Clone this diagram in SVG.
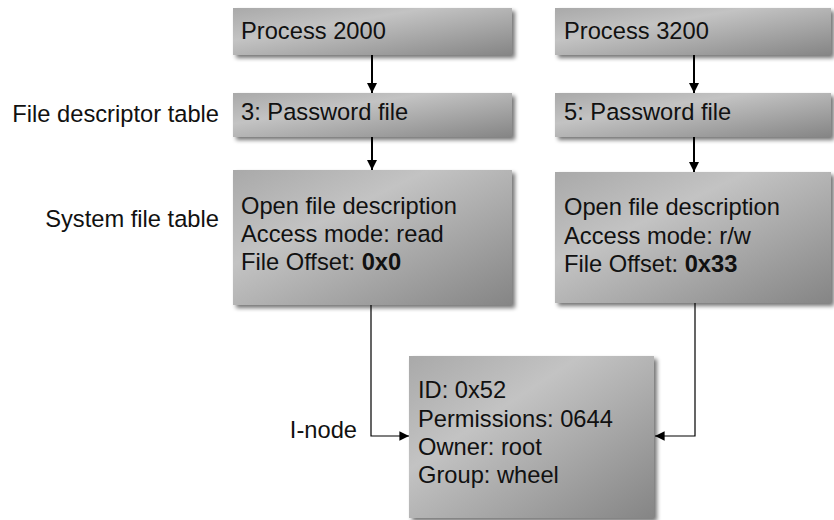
<svg xmlns="http://www.w3.org/2000/svg" width="834" height="520" viewBox="0 0 834 520">
<style>
  text { font-family: "Liberation Sans", Arial, sans-serif; font-size: 23.7px; fill: #111; }
  .lbl { text-anchor: end; }
  .box { fill: url(#g); filter: url(#sh); }
  .thick { stroke: #000; stroke-width: 2; fill: none; marker-end: url(#ah); }
  .thin { stroke: #000; stroke-width: 1.2; fill: none; marker-end: url(#ah2); }
  b, .b { font-weight: bold; }
</style>
<defs>
  <linearGradient id="g" x1="0" y1="0" x2="1" y2="1">
    <stop offset="0" stop-color="#a9a9a9"/>
    <stop offset="0.35" stop-color="#c3c3c3"/>
    <stop offset="1" stop-color="#858585"/>
  </linearGradient>
  <filter id="sh" x="-10%" y="-10%" width="125%" height="130%">
    <feGaussianBlur in="SourceAlpha" stdDeviation="2"/>
    <feOffset dx="3" dy="3" result="b"/>
    <feComponentTransfer><feFuncA type="linear" slope="0.55"/></feComponentTransfer>
    <feMerge><feMergeNode/><feMergeNode in="SourceGraphic"/></feMerge>
  </filter>
  <marker id="ah" viewBox="0 0 10 10" refX="10" refY="5" markerWidth="5" markerHeight="5" orient="auto" markerUnits="strokeWidth">
    <path d="M0,0 L10,5 L0,10 z" fill="#000"/>
  </marker>
  <marker id="ah2" viewBox="0 0 10 10" refX="10" refY="5" markerWidth="8" markerHeight="8" orient="auto" markerUnits="strokeWidth">
    <path d="M0,0 L10,5 L0,10 z" fill="#000"/>
  </marker>
</defs>

<g id="labels">
  <text class="lbl" x="219" y="122">File descriptor table</text>
  <text class="lbl" x="219" y="227">System file table</text>
  <text class="lbl" x="357" y="438">I-node</text>
</g>

<g id="connectors">
  <path class="thick" d="M372,55 V93"/>
  <path class="thick" d="M372,137 V170"/>
  <path class="thick" d="M694,55 V93"/>
  <path class="thick" d="M694,137 V172"/>
  <path class="thin" d="M371,305 V436 H409"/>
  <path class="thin" d="M695,303 V436 H655"/>
</g>

<g id="process2000">
  <rect class="box" x="233" y="8" width="279" height="47"/>
  <text x="241" y="39">Process 2000</text>
</g>
<g id="fd3">
  <rect class="box" x="233" y="93" width="279" height="44"/>
  <text x="241" y="120">3: Password file</text>
</g>
<g id="ofd1">
  <rect class="box" x="233" y="170" width="279" height="135"/>
  <text x="241" y="214">Open file description</text>
  <text x="241" y="242">Access mode: read</text>
  <text x="241" y="270">File Offset: <tspan class="b">0x0</tspan></text>
</g>

<g id="process3200">
  <rect class="box" x="555" y="8" width="276" height="47"/>
  <text x="564" y="39">Process 3200</text>
</g>
<g id="fd5">
  <rect class="box" x="555" y="93" width="276" height="44"/>
  <text x="564" y="120">5: Password file</text>
</g>
<g id="ofd2">
  <rect class="box" x="555" y="172" width="276" height="131"/>
  <text x="564" y="215">Open file description</text>
  <text x="564" y="244">Access mode: r/w</text>
  <text x="564" y="272">File Offset: <tspan class="b">0x33</tspan></text>
</g>

<g id="inode">
  <rect class="box" x="409" y="356" width="245" height="162"/>
  <text x="418" y="398">ID: 0x52</text>
  <text x="418" y="427">Permissions: 0644</text>
  <text x="418" y="455">Owner: root</text>
  <text x="418" y="483">Group: wheel</text>
</g>
</svg>
